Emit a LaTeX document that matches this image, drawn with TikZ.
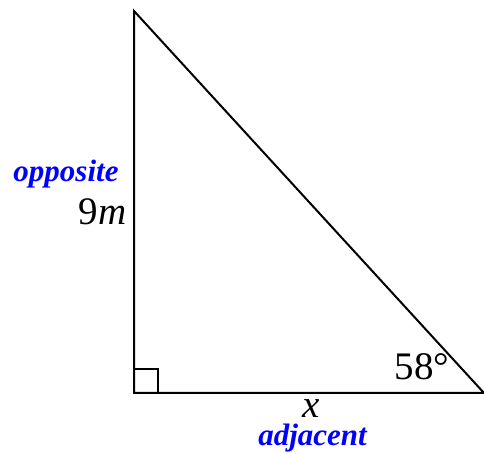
\documentclass[tikz,border=0pt]{standalone}
\usepackage{fontspec}
\setmainfont{Liberation Serif}
\begin{document}
\begin{tikzpicture}[x=1pt,y=1pt,
  edge/.style={draw=black,line width=2pt,line join=miter},
  lbl/.style={inner sep=0pt,anchor=base,font=\fontsize{39}{40}\selectfont},
  side/.style={inner sep=0pt,anchor=base,text=blue,font=\fontsize{31}{32}\selectfont\bfseries\itshape}]
\useasboundingbox (0,0) rectangle (484,454);
\coordinate (A) at (134,443);
\coordinate (B) at (134,61);
\coordinate (C) at (484,61);
\draw[edge] (A) -- (B) -- (C) -- cycle;
\draw[line width=1.8pt] (B) ++(0,24) -| ++(24,-24);
\node[side] (opp) at (66,272) {opposite};
\node[lbl] (nine) at (102.5,229) {9\textit{m}};
\node[lbl] (ang) at (422,74) {58°};
\node[lbl] (x) at (311.5,36) {\textit{x}};
\node[side] (adj) at (312.5,8) {adjacent};
\end{tikzpicture}
\end{document}
